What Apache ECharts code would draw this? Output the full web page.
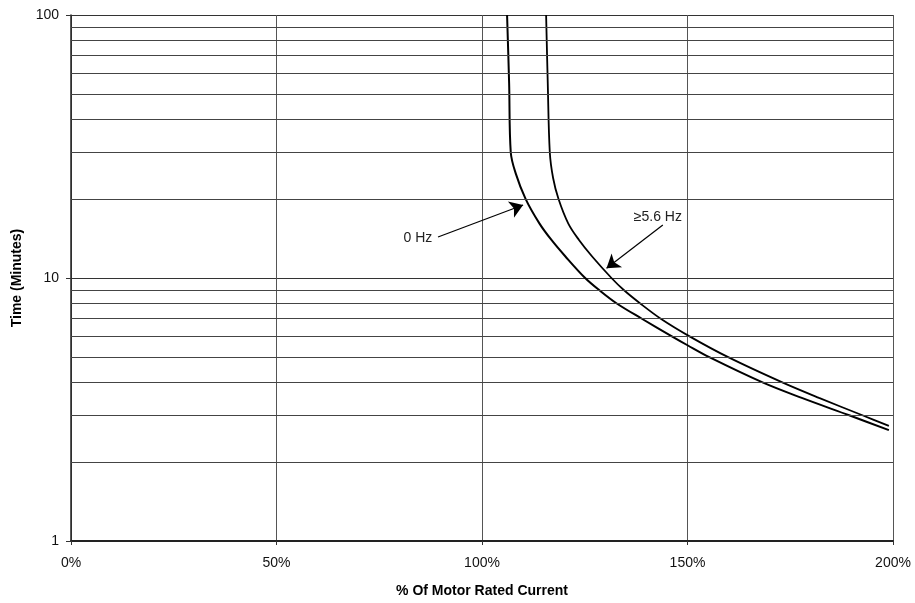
<!DOCTYPE html>
<html>
<head>
<meta charset="utf-8">
<script src="https://cdn.jsdelivr.net/npm/echarts@6/dist/echarts.min.js"></script>
<style>
	html, body { margin: 0; padding: 0; background: #fff; }
	#chart { width: 915px; height: 603px; }
</style>
</head>
<body>
<div id="chart"></div>
<script>
// % of rated current, minutes
var hz0Current = [106.1, 106.6, 107.0, 108.2, 110.6, 114.0, 116.9, 120.3, 125.1, 128.5, 132.8, 138.9, 146.2, 150.0, 155.3, 168.4, 177.8, 189.5, 199.0];
var hz0Time = [100, 55, 30, 25, 20, 16.1, 13.95, 12.07, 10, 9, 8, 7, 6, 5.55, 5, 4, 3.5, 3, 2.64];
var hz56Current = [115.6, 116.0, 116.5, 117.3, 118.6, 121.0, 123.6, 126.8, 131.5, 134.5, 138.5, 143.5, 150.5, 159.9, 173.2, 182.0, 192.7, 199.0];
var hz56Time = [100, 55, 30, 24, 20, 16.1, 13.95, 12.07, 10, 9, 8, 7, 6, 5, 4, 3.5, 3, 2.74];
var xTicks = [0, 50, 100, 150, 200];
var minorTimes = [2, 3, 4, 5, 6, 7, 8, 9, 20, 30, 40, 50, 60, 70, 80, 90];

function pairs(xs, ys) {
	var out = [];
	for (var i = 0; i < xs.length; i++) {
		out.push([xs[i], ys[i]]);
	}
	return out;
}

var chart = echarts.init(document.getElementById('chart'));
var font = 'Liberation Sans, Arial, sans-serif';

var option = {
	animation: false,
	grid: { left: 71, right: 22, top: 15, bottom: 62 },
	xAxis: {
		type: 'value',
		min: xTicks[0],
		max: xTicks[xTicks.length - 1],
		interval: 50,
		name: '% Of Motor Rated Current',
		nameLocation: 'middle',
		nameGap: 43,
		nameTextStyle: { fontFamily: font, fontSize: 14, fontWeight: 'bold', color: '#000' },
		axisLine: { lineStyle: { color: '#222', width: 2 } },
		axisTick: { show: true, length: 4, lineStyle: { color: '#333' } },
		axisLabel: {
			formatter: '{value}%', margin: 15,
			fontFamily: font, fontSize: 14, color: '#111'
		},
		splitLine: { show: true, lineStyle: { color: '#555', width: 1 } }
	},
	yAxis: {
		type: 'log',
		logBase: 10,
		min: 1,
		max: 100,
		name: 'Time (Minutes)',
		nameLocation: 'middle',
		nameGap: 47,
		nameTextStyle: { fontFamily: font, fontSize: 14, fontWeight: 'bold', color: '#000' },
		axisLine: { show: true, lineStyle: { color: '#222', width: 1.5 } },
		axisTick: { show: true, length: 5, lineStyle: { color: '#333' } },
		axisLabel: { margin: 12, fontFamily: font, fontSize: 14, color: '#111' },
		splitLine: { show: true, lineStyle: { color: '#333', width: 1.2 } }
	},
	series: [
		{
			name: '0 Hz',
			type: 'line',
			data: pairs(hz0Current, hz0Time),
			smooth: 0.35,
			showSymbol: false,
			lineStyle: { color: '#000', width: 2 },
			markLine: {
				silent: true,
				symbol: 'none',
				label: { show: false },
				lineStyle: { color: '#444', width: 1, type: 'solid' },
				data: minorTimes.map(function (v) { return { yAxis: v }; })
			},
			markPoint: {
				symbol: 'circle',
				symbolSize: 0,
				label: {
					show: true, position: 'inside',
					fontFamily: font, fontSize: 14, color: '#222',
					formatter: function (p) { return p.name; }
				},
				data: [
					{ name: '0 Hz', coord: [84.4, 14.17] },
					{ name: '≥5.6 Hz', coord: [142.8, 17.06] }
				]
			}
		},
		{
			name: '5.6 Hz',
			type: 'line',
			data: pairs(hz56Current, hz56Time),
			smooth: 0.35,
			showSymbol: false,
			lineStyle: { color: '#000', width: 1.8 },
			markLine: {
				silent: true,
				symbol: ['none', 'arrow'],
				symbolSize: 13,
				label: { show: false },
				lineStyle: { color: '#000', width: 1.2, type: 'solid' },
				itemStyle: { color: '#000' },
				data: [
					[{ coord: [89.3, 14.32] }, { coord: [110.0, 18.95] }],
					[{ coord: [144.0, 15.9] }, { coord: [130.3, 10.89] }]
				]
			}
		}
	]
};

chart.setOption(option);
</script>
</body>
</html>
